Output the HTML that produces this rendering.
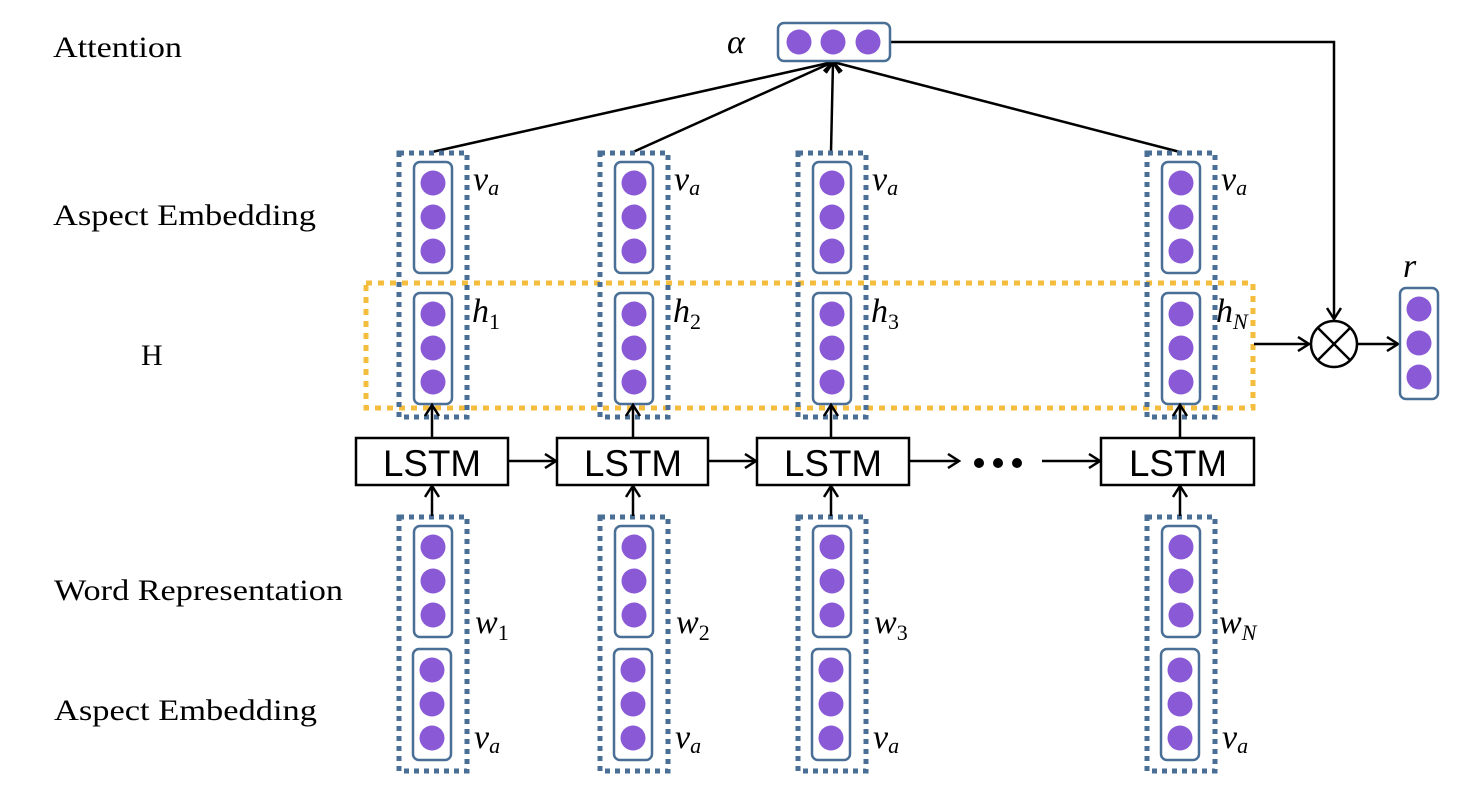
<!DOCTYPE html>
<html><head><meta charset="utf-8"><style>
html,body{margin:0;padding:0;background:#fff;}
svg{display:block;}
.lbl{font-family:"Liberation Serif",serif;font-size:30px;fill:#000;}
.m{font-family:"Liberation Serif",serif;font-style:italic;font-size:34px;fill:#000;}
.s{font-size:22px;font-style:normal;}
.si{font-size:22px;}
.lstm{font-family:"Liberation Sans",sans-serif;font-size:37px;fill:#000;}
</style></head><body>
<svg width="1464" height="794" viewBox="0 0 1464 794" xmlns="http://www.w3.org/2000/svg">
<defs>
<marker id="ar" markerWidth="16" markerHeight="16" refX="13" refY="8" orient="auto" markerUnits="userSpaceOnUse">
<path d="M2,1 L13,8 L2,15" fill="none" stroke="#000" stroke-width="2.5"/>
</marker>
<g id="vec">
<rect x="-19" y="0" width="38" height="111" rx="6" fill="#fff" stroke="#4a6f96" stroke-width="2.5"/>
<circle cx="0" cy="21" r="12.5" fill="#8a5ad6"/>
<circle cx="0" cy="55" r="12.5" fill="#8a5ad6"/>
<circle cx="0" cy="89" r="12.5" fill="#8a5ad6"/>
</g>
</defs>

<text class="lbl" x="53" y="57" textLength="129" lengthAdjust="spacingAndGlyphs">Attention</text>
<text class="lbl" x="53" y="225" textLength="263" lengthAdjust="spacingAndGlyphs">Aspect Embedding</text>
<text class="lbl" x="141" y="365">H</text>
<text class="lbl" x="54" y="600" textLength="289" lengthAdjust="spacingAndGlyphs">Word Representation</text>
<text class="lbl" x="54" y="720" textLength="263" lengthAdjust="spacingAndGlyphs">Aspect Embedding</text>

<rect x="366" y="283" width="887" height="125" fill="none" stroke="#f5bd3d" stroke-width="5" stroke-dasharray="6,6"/>

<g stroke="#000" stroke-width="2.5" fill="none">
<line x1="432" y1="152" x2="833" y2="62" marker-end="url(#ar)"/>
<line x1="633" y1="152" x2="833" y2="62" marker-end="url(#ar)"/>
<line x1="831" y1="152" x2="833" y2="62" marker-end="url(#ar)"/>
<line x1="1180" y1="152" x2="833" y2="62" marker-end="url(#ar)"/>
<polyline points="890,42 1334,42 1334,319" marker-end="url(#ar)"/>
<line x1="1254" y1="344" x2="1309" y2="344" marker-end="url(#ar)"/>
<line x1="1358" y1="344" x2="1398" y2="344" marker-end="url(#ar)"/>
</g>

<rect x="778" y="23" width="112" height="38" rx="6" fill="#fff" stroke="#4a6f96" stroke-width="2.5"/>
<circle cx="799" cy="42" r="12.5" fill="#8a5ad6"/>
<circle cx="833" cy="42" r="12.5" fill="#8a5ad6"/>
<circle cx="868" cy="42" r="12.5" fill="#8a5ad6"/>
<text class="m" x="727" y="53">α</text>

<g id="col1">
<rect x="399" y="153" width="68" height="264" fill="none" stroke="#4a6f96" stroke-width="5" stroke-dasharray="5,5"/>
<use href="#vec" x="433" y="162"/>
<use href="#vec" x="433" y="293"/>
<rect x="399" y="517" width="68" height="254" fill="none" stroke="#4a6f96" stroke-width="5" stroke-dasharray="5,5"/>
<use href="#vec" x="433" y="526"/>
<use href="#vec" x="432" y="649"/>
</g>
<use href="#col1" x="201"/>
<use href="#col1" x="399"/>
<use href="#col1" x="748"/>

<use href="#vec" x="1419" y="288"/>
<text class="m" x="1403" y="277">r</text>

<circle cx="1334" cy="344" r="23" fill="#fff" stroke="#000" stroke-width="2.5"/>
<line x1="1318" y1="328" x2="1350" y2="360" stroke="#000" stroke-width="2.5"/>
<line x1="1350" y1="328" x2="1318" y2="360" stroke="#000" stroke-width="2.5"/>

<g stroke="#000" stroke-width="2.5" fill="none">
<line x1="432" y1="516" x2="432" y2="486" marker-end="url(#ar)"/>
<line x1="432" y1="437" x2="432" y2="405" marker-end="url(#ar)"/>
<line x1="633" y1="516" x2="633" y2="486" marker-end="url(#ar)"/>
<line x1="633" y1="437" x2="633" y2="405" marker-end="url(#ar)"/>
<line x1="831" y1="516" x2="831" y2="486" marker-end="url(#ar)"/>
<line x1="831" y1="437" x2="831" y2="405" marker-end="url(#ar)"/>
<line x1="1180" y1="516" x2="1180" y2="486" marker-end="url(#ar)"/>
<line x1="1180" y1="437" x2="1180" y2="405" marker-end="url(#ar)"/>
<line x1="508" y1="461" x2="556" y2="461" marker-end="url(#ar)"/>
<line x1="708" y1="461" x2="756" y2="461" marker-end="url(#ar)"/>
<line x1="909" y1="461" x2="959" y2="461" marker-end="url(#ar)"/>
<line x1="1042" y1="461" x2="1100" y2="461" marker-end="url(#ar)"/>
</g>
<g fill="#fff" stroke="#000" stroke-width="2.5">
<rect x="356" y="438" width="152" height="47"/>
<rect x="557" y="438" width="151" height="47"/>
<rect x="757" y="438" width="152" height="47"/>
<rect x="1101" y="438" width="153" height="47"/>
</g>
<text class="lstm" x="432" y="476" text-anchor="middle" textLength="98" lengthAdjust="spacingAndGlyphs">LSTM</text>
<text class="lstm" x="633" y="476" text-anchor="middle" textLength="98" lengthAdjust="spacingAndGlyphs">LSTM</text>
<text class="lstm" x="833" y="476" text-anchor="middle" textLength="98" lengthAdjust="spacingAndGlyphs">LSTM</text>
<text class="lstm" x="1178" y="476" text-anchor="middle" textLength="98" lengthAdjust="spacingAndGlyphs">LSTM</text>
<circle cx="979" cy="463" r="5" fill="#000"/>
<circle cx="998" cy="463" r="5" fill="#000"/>
<circle cx="1017" cy="463" r="5" fill="#000"/>

<g class="m">
<text x="473" y="190">v<tspan class="si" dy="5">a</tspan></text>
<text x="674" y="190">v<tspan class="si" dy="5">a</tspan></text>
<text x="872" y="190">v<tspan class="si" dy="5">a</tspan></text>
<text x="1221" y="190">v<tspan class="si" dy="5">a</tspan></text>
<text x="472" y="322">h<tspan class="s" dy="7">1</tspan></text>
<text x="673" y="322">h<tspan class="s" dy="7">2</tspan></text>
<text x="871" y="322">h<tspan class="s" dy="7">3</tspan></text>
<text x="1216" y="322">h<tspan class="si" dy="7">N</tspan></text>
<text x="475" y="633">w<tspan class="s" dy="7">1</tspan></text>
<text x="676" y="633">w<tspan class="s" dy="7">2</tspan></text>
<text x="874" y="633">w<tspan class="s" dy="7">3</tspan></text>
<text x="1219" y="633">w<tspan class="si" dy="7">N</tspan></text>
<text x="474" y="748">v<tspan class="si" dy="5">a</tspan></text>
<text x="675" y="748">v<tspan class="si" dy="5">a</tspan></text>
<text x="873" y="748">v<tspan class="si" dy="5">a</tspan></text>
<text x="1222" y="748">v<tspan class="si" dy="5">a</tspan></text>
</g>
</svg>
</body></html>
